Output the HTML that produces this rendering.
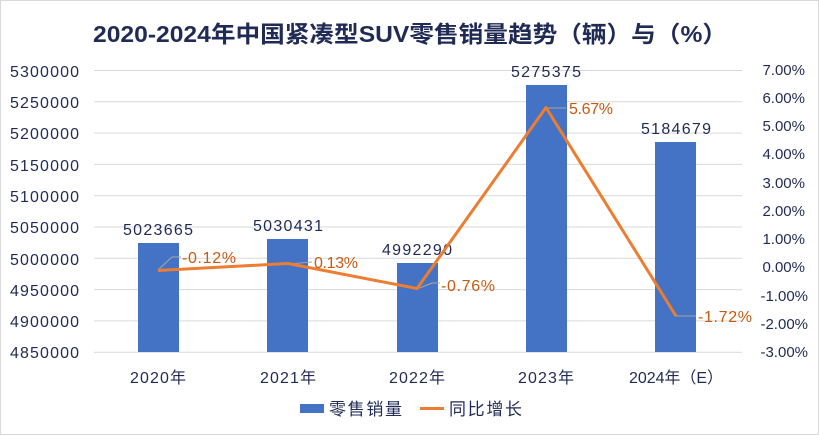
<!DOCTYPE html>
<html><head><meta charset="utf-8"><style>
body{margin:0;background:#fff}
svg{display:block}
text{font-family:"Liberation Sans","Noto Sans CJK SC",sans-serif}
</style></head><body>
<svg width="819" height="435" viewBox="0 0 819 435">
<rect x="0.5" y="0.5" width="818" height="434" fill="#fff" stroke="#d9d9d9"/>
<text x="93" y="42" font-size="23" font-weight="bold" fill="#1f2a55" textLength="634" lengthAdjust="spacingAndGlyphs">2020-2024年中国紧凑型SUV零售销量趋势（辆）与（%）</text>
<g stroke="#d9d9d9" stroke-width="1">
<line x1="94" x2="742" y1="70.5" y2="70.5"/><line x1="94" x2="742" y1="101.8" y2="101.8"/>
<line x1="94" x2="742" y1="133.1" y2="133.1"/><line x1="94" x2="742" y1="164.4" y2="164.4"/>
<line x1="94" x2="742" y1="195.7" y2="195.7"/><line x1="94" x2="742" y1="227" y2="227"/>
<line x1="94" x2="742" y1="258.3" y2="258.3"/><line x1="94" x2="742" y1="289.6" y2="289.6"/>
<line x1="94" x2="742" y1="320.9" y2="320.9"/><line x1="94" x2="742" y1="352.2" y2="352.2"/>
</g>
<g font-size="16" fill="#1f2a55" lengthAdjust="spacingAndGlyphs">
<text x="10" y="77" textLength="69">5300000</text><text x="10" y="108" textLength="69">5250000</text><text x="10" y="139" textLength="69">5200000</text>
<text x="10" y="171" textLength="69">5150000</text><text x="10" y="202" textLength="69">5100000</text><text x="10" y="233" textLength="69">5050000</text>
<text x="10" y="265" textLength="69">5000000</text><text x="10" y="296" textLength="69">4950000</text><text x="10" y="327" textLength="69">4900000</text>
<text x="10" y="358" textLength="69">4850000</text>
</g>
<g font-size="15" fill="#1f2a55" text-anchor="end">
<text x="805" y="75">7.00%</text><text x="805" y="103">6.00%</text><text x="805" y="131">5.00%</text>
<text x="805" y="159">4.00%</text><text x="805" y="188">3.00%</text><text x="805" y="216">2.00%</text>
<text x="805" y="244">1.00%</text><text x="805" y="272">0.00%</text><text x="808" y="301">-1.00%</text>
<text x="808" y="329">-2.00%</text><text x="808" y="357">-3.00%</text>
</g>
<g fill="#4472c4">
<rect x="138" y="243" width="41" height="109"/>
<rect x="267" y="239" width="41" height="113"/>
<rect x="397" y="263" width="41" height="89"/>
<rect x="526" y="85" width="41" height="267"/>
<rect x="655" y="142" width="41" height="210"/>
</g>
<g font-size="16" fill="#1f2a55" text-anchor="middle">
<text x="158" y="235" textLength="70">5023665</text><text x="288" y="231" textLength="70">5030431</text><text x="417" y="255" textLength="70">4992290</text>
<text x="546" y="77" textLength="70">5275375</text><text x="676" y="134" textLength="70">5184679</text>
<text x="158" y="383" textLength="56">2020年</text><text x="288" y="383" textLength="56">2021年</text><text x="417" y="383" textLength="56">2022年</text>
<text x="546" y="383" textLength="56">2023年</text><text x="676" y="383" textLength="94">2024年（E）</text>
</g>
<g stroke="#a6a6a6" stroke-width="1" fill="none">
<polyline points="158,270 172,257 181,257"/>
<polyline points="288,264 312,262"/>
<polyline points="417,289 432,283 440,283"/>
<polyline points="546,108 566,108"/>
<polyline points="676,316 696,316"/>
</g>
<polyline points="158,270.5 288,263.5 417,288.5 546,107.5 676,316" fill="none" stroke="#ed7d31" stroke-width="3" stroke-linejoin="round"/>
<g font-size="16" fill="#c55a11">
<text x="182" y="263" textLength="54">-0.12%</text><text x="314" y="268" textLength="44">0.13%</text><text x="441" y="291" textLength="54">-0.76%</text>
<text x="569" y="114" textLength="44">5.67%</text><text x="698" y="322" textLength="54">-1.72%</text>
</g>
<rect x="300" y="404" width="24" height="9" fill="#4472c4"/>
<text x="329" y="415" font-size="17" fill="#1f2a55" textLength="73">零售销量</text>
<line x1="420" x2="444" y1="408.5" y2="408.5" stroke="#ed7d31" stroke-width="3"/>
<text x="449" y="415" font-size="17" fill="#1f2a55" textLength="73">同比增长</text>
</svg>
</body></html>
